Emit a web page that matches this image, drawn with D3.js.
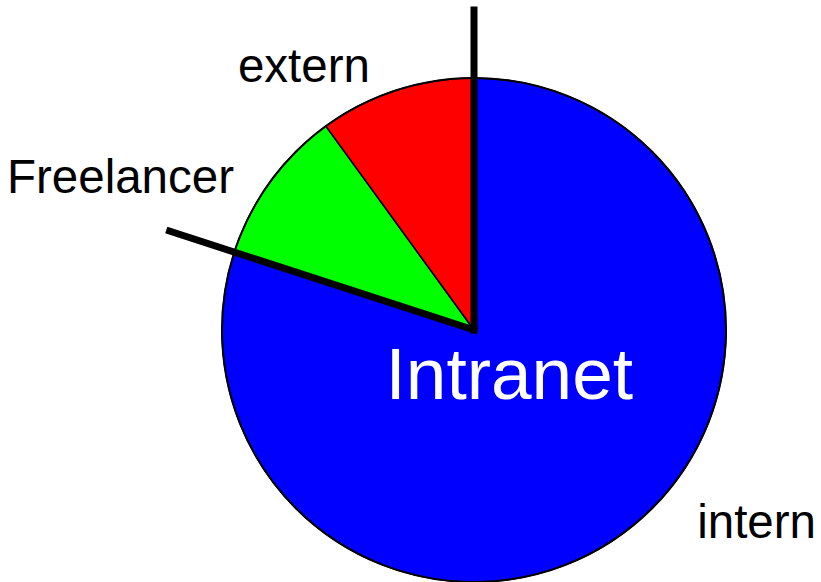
<!DOCTYPE html>
<html>
<head>
<meta charset="utf-8">
<script src="https://cdn.jsdelivr.net/npm/d3@7"></script>
<style>
body { margin: 0; background: #fff; }
text { font-family: "Liberation Sans", Arial, sans-serif; }
</style>
</head>
<body>
<div id="chart"></div>
<script>
// data
var categories = ["intern", "Freelancer", "extern"];
var shares = [80, 10, 10];
var sliceColors = ["#0000ff", "#00ff00", "#ff0000"];
var chartTitle = "Intranet";

var width = 821,
    height = 582,
    radius = 252,
    cx = 474,
    cy = 330;

var data = [];
for (var i = 0; i < categories.length; i++) {
    data.push({name: categories[i], value: shares[i], color: sliceColors[i]});
}

var svg = d3.select("#chart")
            .append("svg")
            .attr("width", width)
            .attr("height", height);

var g = svg.append("g")
           .attr("transform", "translate(" + cx + "," + cy + ")");

var pie = d3.pie()
            .sort(null)
            .value(function(d) { return d.value; });

var arc = d3.arc()
            .innerRadius(0)
            .outerRadius(radius);

var slices = pie(data);

g.selectAll("path.slice")
    .data(slices)
    .enter()
    .append("path")
    .attr("class", "slice")
    .attr("d", arc)
    .attr("fill", function(d) { return d.data.color; })
    .attr("stroke", "#000")
    .attr("stroke-width", 1.5)
    .attr("stroke-linejoin", "round");

// outer ring a bit heavier
g.append("circle")
    .attr("r", radius)
    .attr("fill", "none")
    .attr("stroke", "#000")
    .attr("stroke-width", 2);

// thick separators at the borders of the biggest slice
var big = slices[0];
var lineLen = radius * 1.27;
g.selectAll("line.sep")
    .data([big.startAngle, big.endAngle])
    .enter()
    .append("line")
    .attr("class", "sep")
    .attr("x1", 0)
    .attr("y1", 0)
    .attr("x2", function(a) { return Math.sin(a) * lineLen; })
    .attr("y2", function(a) { return -Math.cos(a) * lineLen; })
    .attr("stroke", "#000")
    .attr("stroke-width", 7)
    .attr("stroke-linecap", "square");

// category labels outside; left side hangs off the pie,
// right side is pushed to the chart edge, all kept off the bottom
var labelR = radius * 1.13;
var bottomPad = 61;
function labelAngle(d) {
    return (d.startAngle + d.endAngle) / 2 - 0.06;
}
g.selectAll("text.lbl")
    .data(slices)
    .enter()
    .append("text")
    .attr("class", "lbl")
    .attr("x", function(d) {
        var a = labelAngle(d);
        if (Math.sin(a) < 0) return Math.sin(a) * labelR;
        return width - 5 - cx;
    })
    .attr("y", function(d) {
        var y = -Math.cos(labelAngle(d)) * labelR;
        return Math.min(y, height - bottomPad - cy);
    })
    .attr("dy", "0.35em")
    .attr("text-anchor", "end")
    .style("font-size", "47.5px")
    .attr("fill", "#000")
    .text(function(d) { return d.data.name; });

g.append("text")
    .attr("x", radius * 0.14)
    .attr("y", radius * 0.274)
    .attr("text-anchor", "middle")
    .style("font-size", "73px")
    .attr("fill", "#fff")
    .text(chartTitle);
</script>
</body>
</html>
